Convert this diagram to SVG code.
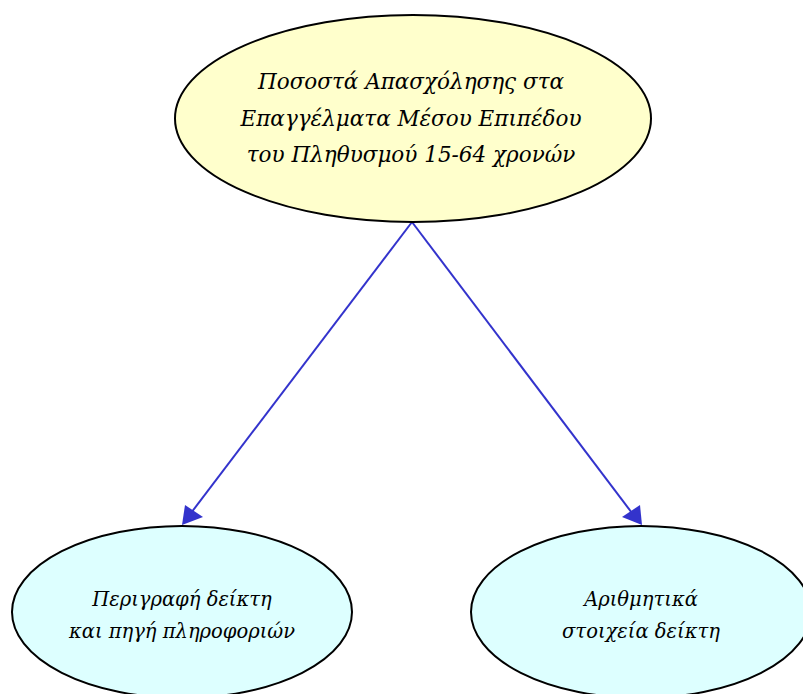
<svg xmlns="http://www.w3.org/2000/svg" width="803" height="694" viewBox="0 0 803 694">
<style>
text{font-family:"DejaVu Serif",serif;font-style:italic;fill:#000;text-anchor:middle}
.t{font-size:21.5px}
.b{font-size:19.5px}
.n{stroke:#000;stroke-width:2}
.e{stroke:#3333cc;stroke-width:2;fill:none}
</style>
<rect width="803" height="694" fill="#fff"/>
<g id="edges">
<path class="e" d="M412,222 L191,513"/>
<polygon points="182,525 185,505 203,517" fill="#3333cc"/>
<path class="e" d="M412,222 L632,513"/>
<polygon points="642,525 622,517 640,505" fill="#3333cc"/>
</g>
<g id="root">
<ellipse class="n" cx="413" cy="118.5" rx="238" ry="103.5" fill="#ffffcc"/>
<text class="t" x="411" y="89">Ποσοστά Απασχόλησης στα</text>
<text class="t" x="411" y="126">Επαγγέλματα Μέσου Επιπέδου</text>
<text class="t" x="411" y="162">του Πληθυσμού 15-64 χρονών</text>
</g>
<g id="desc">
<ellipse class="n" cx="182" cy="612" rx="170" ry="86" fill="#ddffff"/>
<text class="b" x="182" y="606">Περιγραφή δείκτη</text>
<text class="b" x="182" y="638">και πηγή πληροφοριών</text>
</g>
<g id="stats">
<ellipse class="n" cx="641" cy="612" rx="170" ry="86" fill="#ddffff"/>
<text class="b" x="641" y="606">Αριθμητικά</text>
<text class="b" x="641" y="638">στοιχεία δείκτη</text>
</g>
</svg>
